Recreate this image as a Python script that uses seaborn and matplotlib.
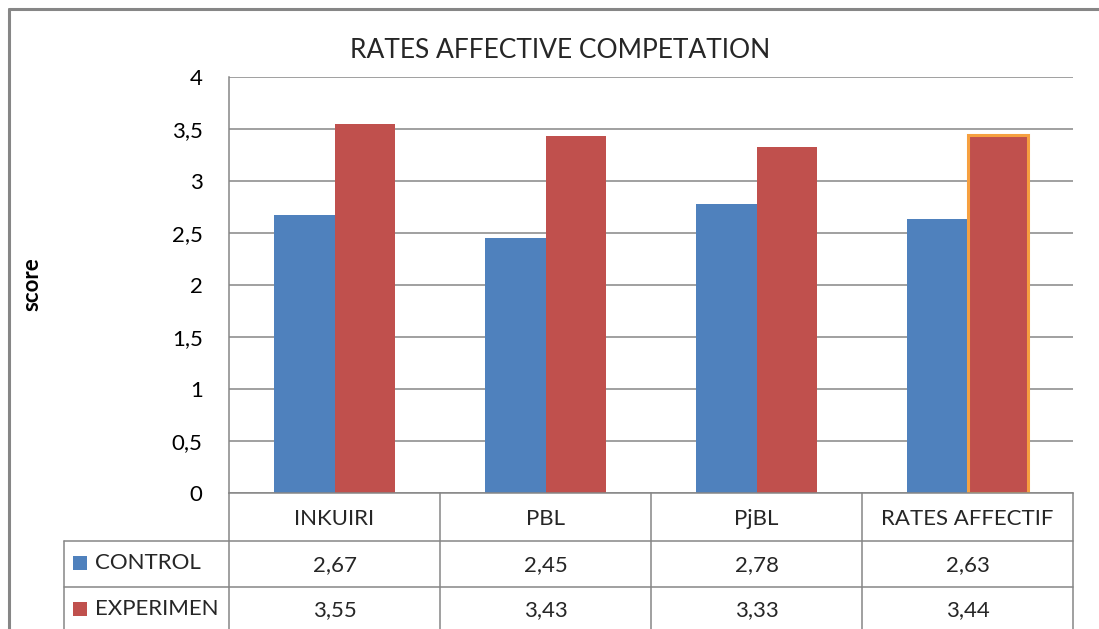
import matplotlib
matplotlib.use("Agg")
import matplotlib.pyplot as plt
import matplotlib.transforms as mtransforms
from matplotlib.lines import Line2D
from matplotlib.patches import Rectangle
from matplotlib.ticker import FuncFormatter, MultipleLocator
import seaborn as sns
import pandas as pd

categories = ["INKUIRI", "PBL", "PjBL", "RATES AFFECTIF"]
series_names = ["CONTROL", "EXPERIMEN"]
control = [2.67, 2.45, 2.78, 2.63]
experimen = [3.55, 3.43, 3.33, 3.44]
title = "RATES AFFECTIVE COMPETATION"
ylabel = "score"

colors = ["#4F81BD", "#C0504D"]
grid_col = "#868686"
FONT = ["Lato", "DejaVu Sans"]

sns.set_theme(style="white")
plt.rcParams["font.family"] = FONT

df = pd.DataFrame({
    "category": categories * 2,
    "score": control + experimen,
    "group": [series_names[0]] * 4 + [series_names[1]] * 4,
})

W, H = 1099, 629
fig = plt.figure(figsize=(W / 100, H / 100), dpi=100)
fig.patch.set_facecolor("white")

ax_l, ax_r, ax_t, ax_b = 229, 1073, 77, 493
ax = fig.add_axes([ax_l / W, 1 - ax_b / H, (ax_r - ax_l) / W, (ax_b - ax_t) / H])

sns.barplot(data=df, x="category", y="score", hue="group", palette=colors,
            width=0.57, saturation=1, ax=ax, legend=False, order=categories,
            hue_order=series_names, edgecolor="none")

# highlighted bar
hl = ax.containers[1][3]
hl.set_edgecolor("#F6A040")
hl.set_linewidth(2.2)

ax.set_xlim(-0.5, len(categories) - 0.5)
ax.set_ylim(0, 4)
ax.yaxis.set_major_locator(MultipleLocator(0.5))
ax.yaxis.set_major_formatter(FuncFormatter(
    lambda v, p: (f"{v:g}").replace(".", ",")))
ax.set_xticks([])
ax.set_xlabel("")
ax.grid(axis="y", color=grid_col, linewidth=1.1)
ax.set_axisbelow(True)
for s in ["top", "right"]:
    ax.spines[s].set_visible(False)
for s in ["left", "bottom"]:
    ax.spines[s].set_color(grid_col)
    ax.spines[s].set_linewidth(1.1)
ax.tick_params(axis="y", length=0, pad=19, labelsize=16, labelcolor="black")
ax.set_ylabel(ylabel, fontsize=16, fontweight="bold", color="black", va="center")
ax.yaxis.set_label_coords((32 - ax_l) / (ax_r - ax_l), (ax_b - 284) / (ax_b - ax_t))

# data table
tr = mtransforms.blended_transform_factory(ax.transData, ax.transAxes)
ah = ax_b - ax_t
def yf(py):
    return (ax_b - py) / ah

x_left = -0.5
x_right = len(categories) - 0.5
unit = (ax_r - ax_l) / len(categories)
x_leg = x_left - (ax_l - 64) / unit
y_hdr = yf(541)
y_r1 = yf(587)
y_bot = yf(640)

def line(xs, ys):
    ax.add_line(Line2D(xs, ys, transform=tr, color=grid_col, lw=1.1,
                       clip_on=False))

line([x_left, x_left], [0, y_bot])
for i in range(len(categories)):
    xb = i + 0.5
    line([xb, xb], [0, y_bot])
line([x_leg, x_right], [y_hdr, y_hdr])
line([x_leg, x_right], [y_r1, y_r1])
line([x_leg, x_leg], [y_hdr, y_bot])

for i, c in enumerate(categories):
    ax.text(i, yf(519), c, transform=tr, ha="center", va="center",
            fontsize=16, clip_on=False)
    ax.text(i, yf(565), f"{control[i]:.2f}".replace(".", ","), transform=tr,
            ha="center", va="center", fontsize=16, clip_on=False)
    ax.text(i, yf(610), f"{experimen[i]:.2f}".replace(".", ","), transform=tr,
            ha="center", va="center", fontsize=16, clip_on=False)

for j, (name, col, cy) in enumerate(zip(series_names, colors, [563, 609])):
    fig.add_artist(Rectangle(((73) / W, 1 - (cy + 7) / H), 14 / W, 14 / H,
                             transform=fig.transFigure, facecolor=col,
                             edgecolor="none"))
    fig.text(95 / W, 1 - cy / H, name, ha="left", va="center", fontsize=16)

# title
fig.text(560 / W, 1 - 51 / H, title, ha="center", va="center", fontsize=19)

# outer chart border
fig.add_artist(Line2D([9 / W, 9 / W], [1 - 9 / H, -0.1], transform=fig.transFigure,
                      color="#868686", lw=2.2))
fig.add_artist(Line2D([9 / W, 1.1], [1 - 9 / H, 1 - 9 / H], transform=fig.transFigure,
                      color="#868686", lw=2.2))

fig.savefig("out.png", dpi=100)
